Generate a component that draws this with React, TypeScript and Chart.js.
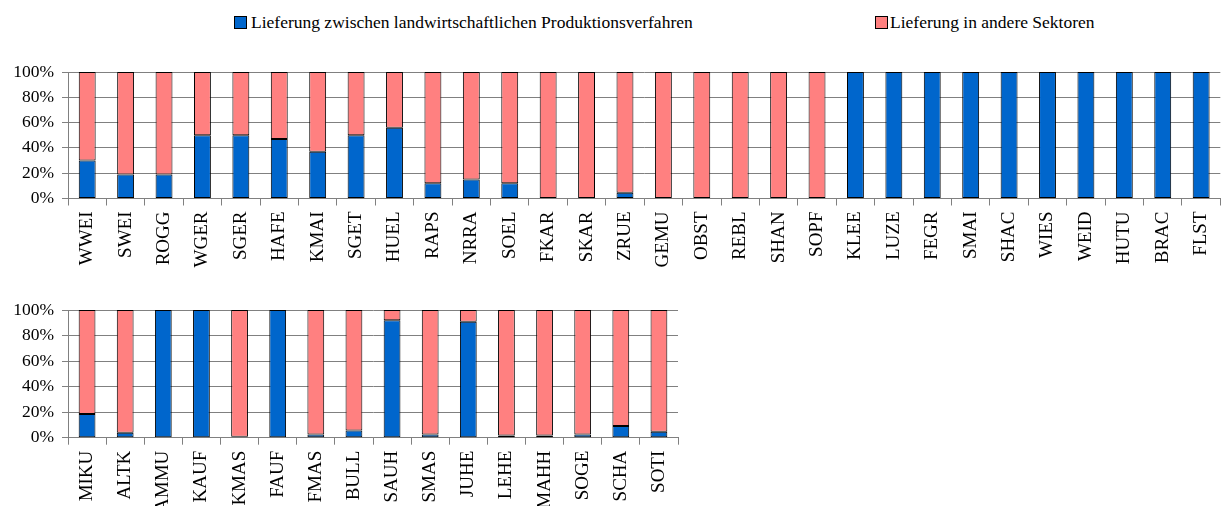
import React, { useEffect, useRef } from "react";
import { Chart, registerables } from "chart.js";

Chart.register(...registerables);

const legendLabels = [
  "Lieferung zwischen landwirtschaftlichen Produktionsverfahren",
  "Lieferung in andere Sektoren",
];
const seriesColors = ["#0066CC", "#FF8080"];

const categoriesTop = [
  "WWEI", "SWEI", "ROGG", "WGER", "SGER", "HAFE", "KMAI", "SGET", "HUEL", "RAPS",
  "NRRA", "SOEL", "FKAR", "SKAR", "ZRUE", "GEMU", "OBST", "REBL", "SHAN", "SOPF",
  "KLEE", "LUZE", "FEGR", "SMAI", "SHAC", "WIES", "WEID", "HUTU", "BRAC", "FLST",
];
const blueTop = [
  30, 19, 19, 50, 50, 47, 37, 50, 56, 12,
  15, 12, 0, 0, 4.5, 0, 0, 0, 0, 0,
  100, 100, 100, 100, 100, 100, 100, 100, 100, 100,
];
const pinkTop = [
  70, 81, 81, 50, 50, 53, 63, 50, 44, 88,
  85, 88, 100, 100, 95.5, 100, 100, 100, 100, 100,
  0, 0, 0, 0, 0, 0, 0, 0, 0, 0,
];

const categoriesBottom = [
  "MIKU", "ALTK", "AMMU", "KAUF", "KMAS", "FAUF", "FMAS", "BULL",
  "SAUH", "SMAS", "JUHE", "LEHE", "MAHH", "SOGE", "SCHA", "SOTI",
];
const blueBottom = [18.5, 3.9, 100, 100, 0.8, 100, 2.6, 5.7, 91.9, 2.6, 90.8, 1.8, 1.8, 2.6, 9.2, 4.7];
const pinkBottom = [81.5, 96.1, 0, 0, 99.2, 0, 97.4, 94.3, 8.1, 97.4, 9.2, 98.2, 98.2, 97.4, 90.8, 95.3];

const yTicks = [0, 20, 40, 60, 80, 100];

const FONT = "'Liberation Serif', 'Times New Roman', serif";
const FS = 17.5;
const FSX = 19;
const GRID = "#808080";

function buildConfig(labels: string[], blue: number[], pink: number[], pad: any, xHeight: number): any {
  return {
    type: "bar",
    data: {
      labels,
      datasets: [
        {
          label: legendLabels[0],
          data: blue,
          backgroundColor: seriesColors[0],
          borderColor: "#000",
          borderWidth: 1,
          borderSkipped: false,
          barPercentage: 0.44,
          categoryPercentage: 1,
        },
        {
          label: legendLabels[1],
          data: pink,
          backgroundColor: seriesColors[1],
          borderColor: "#000",
          borderWidth: 1,
          borderSkipped: false,
          barPercentage: 0.44,
          categoryPercentage: 1,
        },
      ],
    },
    options: {
      responsive: false,
      animation: false,
      devicePixelRatio: 1,
      layout: { padding: pad },
      plugins: { legend: { display: false }, tooltip: { enabled: false } },
      scales: {
        x: {
          stacked: true,
          grid: {
            display: true,
            drawOnChartArea: false,
            drawTicks: true,
            tickLength: 7,
            color: GRID,
            offset: true,
          },
          border: { display: true, color: GRID, width: 1 },
          ticks: {
            autoSkip: false,
            maxRotation: 90,
            minRotation: 90,
            padding: 6,
            color: "#000",
            font: { family: FONT, size: FSX },
          },
          afterFit: (s: any) => {
            s.height = xHeight;
          },
        },
        y: {
          stacked: true,
          min: 0,
          max: 100,
          afterBuildTicks: (s: any) => {
            s.ticks = yTicks.map((v) => ({ value: v }));
          },
          grid: { color: GRID, tickLength: 6, drawTicks: true },
          border: { display: true, color: GRID, width: 1 },
          ticks: {
            padding: 8,
            color: "#000",
            font: { family: FONT, size: FS },
            callback: (v: any) => v + "%",
          },
          afterFit: (s: any) => {
            s.width = 68;
          },
        },
      },
    },
  };
}

export default function App() {
  const topRef = useRef<HTMLCanvasElement>(null);
  const botRef = useRef<HTMLCanvasElement>(null);

  useEffect(() => {
    const c1 = new Chart(
      topRef.current!,
      buildConfig(categoriesTop, blueTop, pinkTop, { top: 72, right: 3, left: 0, bottom: 0 }, 76.5)
    );
    const c2 = new Chart(
      botRef.current!,
      buildConfig(categoriesBottom, blueBottom, pinkBottom, { top: 35, right: 552, left: 0, bottom: 0 }, 68.3)
    );
    return () => {
      c1.destroy();
      c2.destroy();
    };
  }, []);

  const legendItem = (i: number, boxLeft: number, textLeft: number) => (
    <div key={i}>
      <div
        style={{
          position: "absolute",
          left: boxLeft,
          top: 16,
          width: 11,
          height: 11,
          background: seriesColors[i],
          border: "1px solid #000",
        }}
      />
      <div
        style={{
          position: "absolute",
          left: textLeft,
          top: 13.6,
          fontFamily: FONT,
          fontSize: FS,
          lineHeight: FS + "px",
          color: "#000",
          whiteSpace: "nowrap",
        }}
      >
        {legendLabels[i]}
      </div>
    </div>
  );

  return (
    <div
      style={{
        position: "absolute",
        left: 0,
        top: 0,
        width: 1230,
        height: 506,
        overflow: "hidden",
        background: "#fff",
      }}
    >
      {legendItem(0, 234, 251)}
      {legendItem(1, 875, 890)}
      <canvas
        ref={topRef}
        width={1230}
        height={275}
        style={{ position: "absolute", left: 0, top: 0, width: 1230, height: 275 }}
      />
      <canvas
        ref={botRef}
        width={1230}
        height={231}
        style={{ position: "absolute", left: 0, top: 275, width: 1230, height: 231 }}
      />
    </div>
  );
}
